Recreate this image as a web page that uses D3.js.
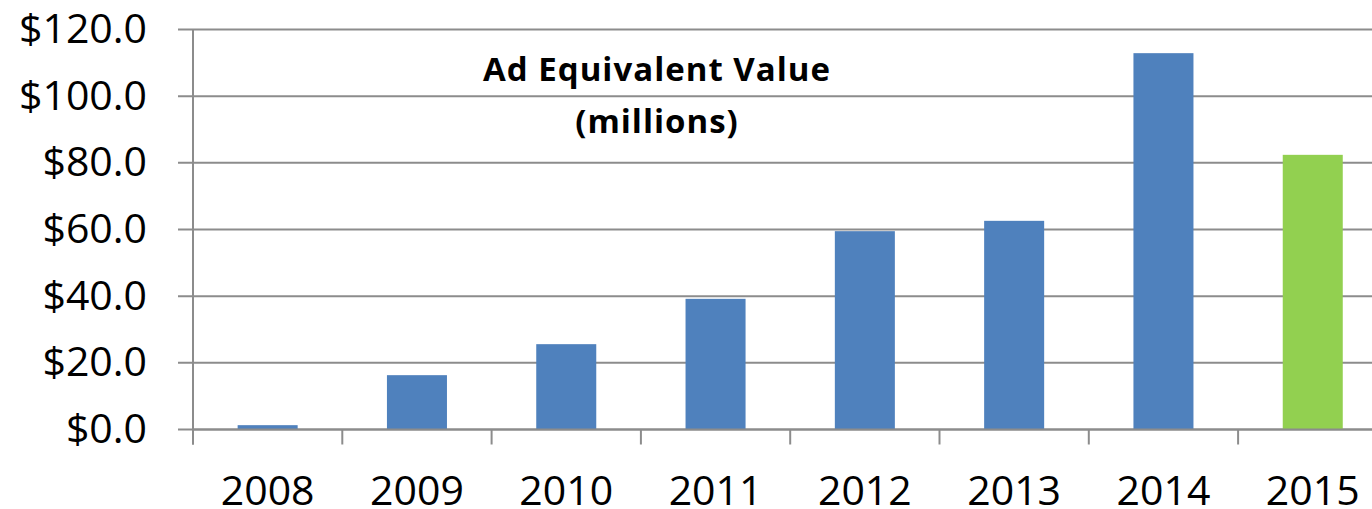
<!DOCTYPE html>
<html>
<head>
<meta charset="utf-8">
<script src="https://cdn.jsdelivr.net/npm/d3@7"></script>
<style>
  body { margin: 0; background: #fff; }
  svg text { font-family: "Open Sans", sans-serif; fill: #000; }
</style>
</head>
<body>
<div id="chart"></div>
<script>
// data
var years = ["2008", "2009", "2010", "2011", "2012", "2013", "2014", "2015"];
var values = [1.3, 16.3, 25.6, 39.2, 59.5, 62.6, 112.9, 82.4];
var barColors = ["#4F81BD", "#4F81BD", "#4F81BD", "#4F81BD", "#4F81BD", "#4F81BD", "#4F81BD", "#92D050"];
var yTicks = [0, 20, 40, 60, 80, 100, 120];
var titleLines = ["Ad Equivalent Value", "(millions)"];

(function() {
  var width = 1372, height = 509;
  var plotLeft = 193, plotTop = 29.5, plotBottom = 429.5, plotRight = 193 + 8 * 149.3;
  var axisGray = "#8c8c8c";

  var svg = d3.select("#chart")
    .append("svg")
    .attr("width", width)
    .attr("height", height);

  var x = d3.scaleBand().domain(years).range([plotLeft, plotRight])
    .paddingInner(0.598).paddingOuter(0.299);

  var y = d3.scaleLinear().domain([0, 120]).range([plotBottom, plotTop]);

  // gridlines (with the little tick stub to the left of the axis)
  svg.selectAll(".grid")
    .data(yTicks)
    .enter().append("line")
    .attr("class", "grid")
    .attr("x1", plotLeft - 15)
    .attr("x2", plotRight)
    .attr("y1", function(d) { return y(d); })
    .attr("y2", function(d) { return y(d); })
    .attr("stroke", axisGray)
    .attr("stroke-width", 2);

  // y axis labels
  var yAxis = d3.axisLeft(y).tickValues(yTicks).tickSize(0).tickPadding(46)
    .tickFormat(function(d) { return "$" + d3.format(".1f")(d); });

  svg.append("g")
    .attr("transform", "translate(" + plotLeft + ",0)")
    .call(yAxis)
    .call(function(g) {
      g.select(".domain").remove();
      g.selectAll("text")
        .attr("font-family", "Open Sans, sans-serif")
        .attr("font-size", 41)
        .attr("fill", "#000");
    });

  svg.append("line")
    .attr("x1", plotLeft).attr("x2", plotLeft)
    .attr("y1", plotTop).attr("y2", plotBottom + 15)
    .attr("stroke", axisGray)
    .attr("stroke-width", 2);

  // bars
  svg.selectAll(".bar")
    .data(values)
    .enter().append("rect")
    .attr("class", "bar")
    .attr("x", function(d, i) { return x(years[i]); })
    .attr("width", x.bandwidth())
    .attr("y", function(d) { return y(d); })
    .attr("height", function(d) { return y(0) - y(d); })
    .attr("fill", function(d, i) { return barColors[i]; });

  // x axis: tick marks sit between the categories
  var boundaries = years.map(function(d) { return x(d) - x.step() * x.paddingOuter(); });
  boundaries.push(plotRight);

  svg.selectAll(".xtick")
    .data(boundaries)
    .enter().append("line")
    .attr("class", "xtick")
    .attr("x1", function(d) { return d; })
    .attr("x2", function(d) { return d; })
    .attr("y1", plotBottom)
    .attr("y2", plotBottom + 15)
    .attr("stroke", axisGray)
    .attr("stroke-width", 2);

  svg.append("line")
    .attr("x1", plotLeft).attr("x2", plotRight)
    .attr("y1", plotBottom).attr("y2", plotBottom)
    .attr("stroke", axisGray)
    .attr("stroke-width", 2);

  svg.selectAll(".xlabel")
    .data(years)
    .enter().append("text")
    .attr("class", "xlabel")
    .attr("x", function(d) { return x(d) + x.bandwidth() / 2; })
    .attr("y", 505)
    .attr("text-anchor", "middle")
    .attr("font-size", 41)
    .text(function(d) { return d; });

  // title inside the plot area
  svg.selectAll(".title")
    .data(titleLines)
    .enter().append("text")
    .attr("class", "title")
    .attr("x", 657)
    .attr("y", function(d, i) { return 81 + i * 52; })
    .attr("text-anchor", "middle")
    .attr("font-size", 33)
    .attr("letter-spacing", 1)
    .attr("font-weight", "bold")
    .text(function(d) { return d; });
})();
</script>
</body>
</html>
